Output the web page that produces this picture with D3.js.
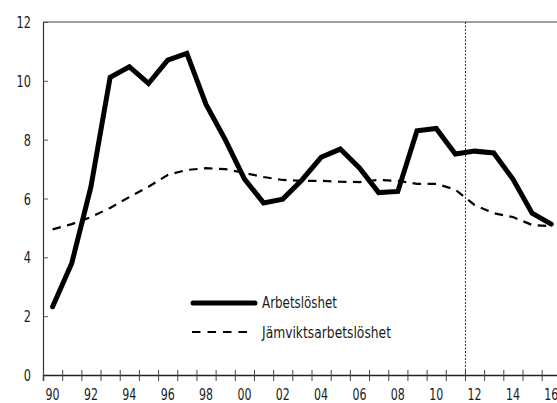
<!DOCTYPE html>
<html>
<head>
<meta charset="utf-8">
<script src="https://cdn.jsdelivr.net/npm/d3@7"></script>
<style>
  body { margin: 0; background: #fff; }
  svg { display: block; }
  text { font-family: "DejaVu Sans Condensed", "DejaVu Sans", sans-serif; fill: #1a1a1a; }
</style>
</head>
<body>
<div id="chart"></div>
<script>
const years = d3.range(1990, 2017);
const arbetsloshet = [2.32, 3.8, 6.4, 10.12, 10.48, 9.91, 10.7, 10.93, 9.2, 8.0,
    6.67, 5.85, 5.98, 6.63, 7.4, 7.68, 7.04, 6.2, 6.24, 8.3,
    8.38, 7.51, 7.61, 7.55, 6.66, 5.5, 5.13];
const jamvikt = [4.95, 5.13, 5.37, 5.68, 6.05, 6.4, 6.8, 6.97, 7.03, 7.0,
    6.87, 6.73, 6.63, 6.6, 6.6, 6.57, 6.56, 6.63, 6.6, 6.5,
    6.5, 6.3, 5.78, 5.5, 5.37, 5.1, 5.06];
const yTicks = [0, 2, 4, 6, 8, 10, 12];
const xLabels = years.filter(d => d % 2 === 0);
const splitYear = 2012; // dotted marker
const legendNames = ["Arbetslöshet", "Jämviktsarbetslöshet"];
const legendWidths = [75, 129]; // condensed look

const width = 557, height = 403;
const margin = {left: 43, top: 22, bottom: 28};
const step = 19.18;

let svg = d3.select("#chart")
    .append("svg")
    .attr("width", width)
    .attr("height", height);

let x = d3.scaleBand()
    .domain(years)
    .range([margin.left, margin.left + step * years.length]);

let xEdge = d3.scaleLinear() // band boundaries for tick marks
    .domain([1990, 1990 + years.length])
    .range(x.range());

let y = d3.scaleLinear()
    .domain([0, 12])
    .range([height - margin.bottom, margin.top]);

// top frame line
svg.append("line")
    .attr("x1", margin.left).attr("x2", width)
    .attr("y1", y(12)).attr("y2", y(12))
    .attr("stroke", "#7f7f7f").attr("stroke-width", 1.5);

// y axis
let yAxis = svg.append("g")
    .attr("transform", `translate(${margin.left},0)`)
    .call(d3.axisRight(y).tickValues(yTicks).tickSize(5).tickFormat(""));
yAxis.select(".domain").attr("stroke", "#333").attr("stroke-width", 1.2);
yAxis.selectAll(".tick line").attr("stroke", "#555");

svg.selectAll(".ylab")
    .data(yTicks)
    .join("text")
    .attr("class", "ylab")
    .attr("x", 31)
    .attr("y", d => y(d) + 6)
    .attr("text-anchor", "end")
    .attr("font-size", 16)
    .attr("textLength", d => String(d).length * 7.2)
    .attr("lengthAdjust", "spacingAndGlyphs")
    .text(d => d);

// dotted split line
svg.append("line")
    .attr("x1", xEdge(splitYear) + 0.5).attr("x2", xEdge(splitYear) + 0.5)
    .attr("y1", y(12)).attr("y2", y(0))
    .attr("stroke", "#333").attr("stroke-width", 1)
    .attr("stroke-dasharray", "2,1.5");

// x axis: ticks at year boundaries
let xAxis = svg.append("g")
    .attr("transform", `translate(0,${y(0)})`)
    .call(d3.axisBottom(xEdge).tickValues(d3.range(1990, 1990 + years.length)).tickSize(6).tickFormat(""));
xAxis.select(".domain").attr("stroke", "#222").attr("stroke-width", 1.5);
xAxis.selectAll(".tick line").attr("y1", -5).attr("stroke", "#444");

svg.selectAll(".xlab")
    .data(xLabels)
    .join("text")
    .attr("class", "xlab")
    .attr("x", d => x(d) + x.bandwidth() / 2)
    .attr("y", 400)
    .attr("text-anchor", "middle")
    .attr("font-size", 16)
    .attr("textLength", 14)
    .attr("lengthAdjust", "spacingAndGlyphs")
    .text(d => String(d).slice(2));

let line = d3.line()
    .x((d, i) => x(years[i]) + x.bandwidth() / 2)
    .y(d => y(d));

svg.append("path")
    .datum(jamvikt)
    .attr("fill", "none")
    .attr("stroke", "#000")
    .attr("stroke-width", 2.2)
    .attr("stroke-dasharray", "8.5,6.5")
    .attr("d", line);

svg.append("path")
    .datum(arbetsloshet)
    .attr("fill", "none")
    .attr("stroke", "#000")
    .attr("stroke-width", 5)
    .attr("stroke-linejoin", "miter")
    .attr("stroke-linecap", "round")
    .attr("d", line);

// legend
let legend = svg.append("g");
legend.append("line")
    .attr("x1", 193).attr("x2", 255).attr("y1", 303).attr("y2", 303)
    .attr("stroke", "#000").attr("stroke-width", 5).attr("stroke-linecap", "round");
legend.append("line")
    .attr("x1", 192).attr("x2", 251).attr("y1", 332).attr("y2", 332)
    .attr("stroke", "#000").attr("stroke-width", 2.2).attr("stroke-dasharray", "8.5,7");
legend.selectAll(".ltext")
    .data(legendNames)
    .join("text")
    .attr("class", "ltext")
    .attr("x", 262)
    .attr("y", (d, i) => 308 + i * 30)
    .attr("font-size", 16)
    .attr("textLength", (d, i) => legendWidths[i])
    .attr("lengthAdjust", "spacingAndGlyphs")
    .text(d => d);
</script>
</body>
</html>
